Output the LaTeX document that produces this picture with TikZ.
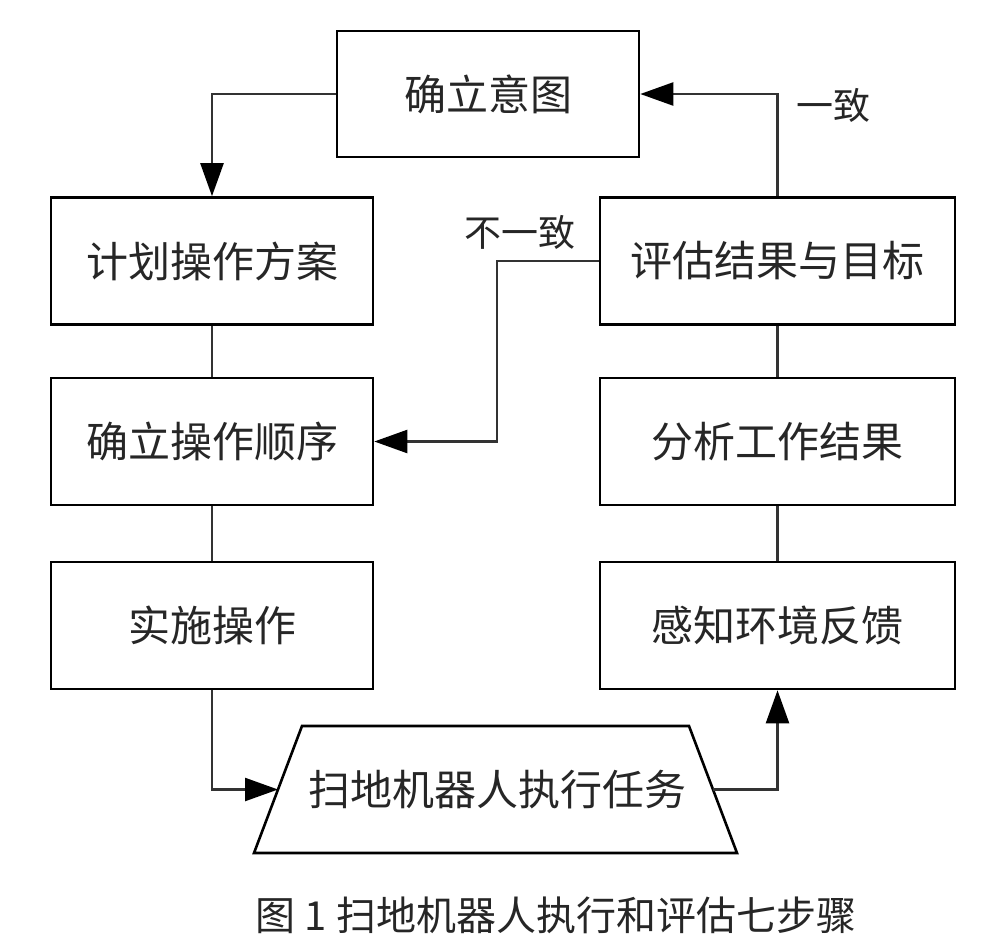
\documentclass[tikz,border=0pt]{standalone}
\usepackage{fontspec}
\setmainfont{Noto Sans CJK SC}
\usetikzlibrary{arrows.meta}
\tikzset{
  boxline/.style={draw=black, line width=1.3pt, line join=miter},
  box/.style={boxline, rectangle, inner sep=0pt, font=\fontsize{21}{25}\selectfont, text=black!85},
  leftbox/.style={box, minimum width=161pt, minimum height=63.5pt},
  rightbox/.style={box, minimum width=177.5pt, minimum height=63.5pt},
  link/.style={draw=black!80, line width=1.2pt},
  arr/.style={link, -{Triangle[length=16.5pt,width=11.5pt,color=black]}},
  lbl/.style={font=\fontsize{18.5}{22}\selectfont, text=black!85, inner sep=0pt}
}
\begin{document}
\begin{tikzpicture}[x=0.5pt,y=-0.5pt]
\useasboundingbox (0,0) rectangle (996,948);
\fill[white] (0,0) rectangle (996,948);
% nodes
\node[box, minimum width=151pt, minimum height=63pt] (intent) at (488,94) {确立意图};
\node[leftbox] (plan) at (212,261) {计划操作方案};
\node[leftbox] (order) at (212,441.5) {确立操作顺序};
\node[leftbox] (impl) at (212,625.5) {实施操作};
\node[rightbox] (eval) at (777.5,261) {评估结果与目标};
\node[rightbox] (analyze) at (777.5,441.5) {分析工作结果};
\node[rightbox] (sense) at (777.5,625.5) {感知环境反馈};
% trapezoid
\coordinate (tzbl) at (254,853);
\coordinate (tztl) at (302,726);
\coordinate (tztr) at (689,726);
\coordinate (tzbr) at (737,853);
\draw[boxline] (tzbl) -- (tztl) -- (tztr) -- (tzbr) -- cycle;
\node[font=\fontsize{21}{25}\selectfont, text=black!85, inner sep=0pt] (task) at (497,789.5) {扫地机器人执行任务};
\coordinate (taskL) at (278,789.5);
\coordinate (taskR) at (713,789.5);
% labels
\node[lbl] (agree) at (833,105) {一致};
\node[lbl] (disagree) at (520,232) {不一致};
\node[font=\fontsize{20}{24}\selectfont, text=black!85, inner sep=0pt] (caption) at (556,915) {图 1 扫地机器人执行和评估七步骤};
% connectors
\draw[arr] (intent.west) -| (plan.north);
\draw[link] (plan.south) -- (order.north);
\draw[link] (order.south) -- (impl.north);
\draw[arr] (impl.south) |- (taskL);
\draw[arr] (taskR) -| (sense.south);
\draw[link] (sense.north) -- (analyze.south);
\draw[link] (analyze.north) -- (eval.south);
\draw[arr] (eval.north) |- (intent.east);
\draw[arr] (eval.west) -- ++(-102,0) |- (order.east);
\end{tikzpicture}
\end{document}
